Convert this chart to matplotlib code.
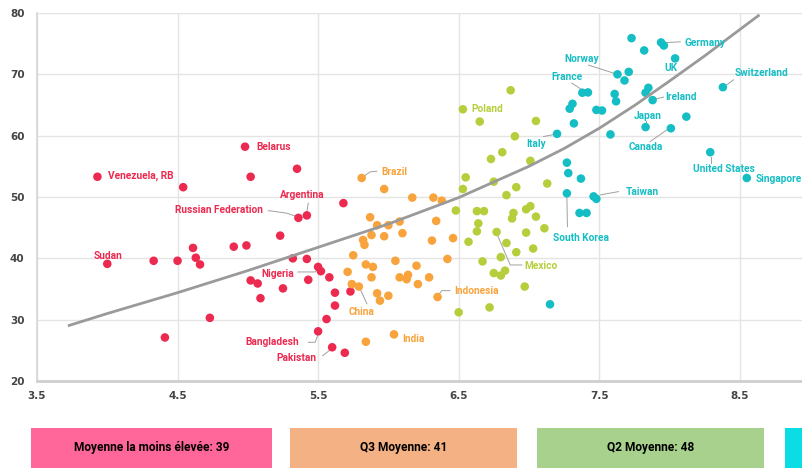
import matplotlib
matplotlib.use("Agg")
import matplotlib.pyplot as plt
from matplotlib.patches import Rectangle

# --- data ---
red_x = [3.93, 4.54, 4.98, 5.02, 5.35, 5.68, 5.36, 5.42, 5.23, 4.61, 4.90, 4.99,
         4.63, 4.66, 4.33, 4.50, 4.00, 5.32, 5.42, 5.50, 5.52, 5.43, 5.58, 5.02,
         5.07, 5.25, 5.62, 5.73, 5.09, 5.62, 4.73, 5.56, 4.41, 5.50, 5.60, 5.69]
red_y = [53.3, 51.6, 58.2, 53.3, 54.6, 49.0, 46.6, 47.0, 43.7, 41.7, 41.9, 42.1,
         40.1, 39.0, 39.6, 39.6, 39.1, 40.0, 39.9, 38.6, 37.9, 36.5, 36.9, 36.4,
         35.9, 35.1, 34.4, 34.6, 33.5, 32.3, 30.3, 30.1, 27.1, 28.1, 25.5, 24.6]

orange_x = [5.81, 5.97, 6.17, 6.32, 6.38, 5.87, 5.92, 6.00, 6.08, 6.34, 5.88, 5.97,
            6.10, 5.82, 5.83, 6.31, 6.46, 5.75, 6.05, 6.42, 6.20, 5.84, 5.89, 5.71,
            5.88, 6.08, 6.14, 6.13, 6.21, 6.29, 5.74, 5.79, 5.92, 6.00, 5.94, 6.35,
            6.04, 5.84]
orange_y = [53.1, 51.3, 49.9, 49.9, 49.4, 46.7, 45.4, 45.4, 46.0, 46.1, 43.8, 43.6,
            44.1, 43.0, 42.2, 42.9, 43.3, 40.5, 39.6, 39.9, 38.8, 39.0, 38.6, 37.8,
            36.9, 36.9, 37.3, 36.6, 35.8, 36.9, 35.8, 35.4, 34.3, 33.9, 33.1, 33.7,
            27.6, 26.4]

green_x = [6.87, 6.53, 6.65, 7.05, 6.90, 6.73, 6.81, 7.01, 6.55, 6.53, 6.75, 6.91,
           7.13, 6.84, 6.48, 6.63, 6.68, 6.89, 6.88, 6.98, 7.01, 7.05, 6.64, 6.63,
           6.77, 6.98, 7.11, 6.57, 6.84, 6.91, 7.03, 6.67, 6.80, 6.75, 6.80, 6.83,
           6.97, 6.72, 6.50]
green_y = [67.4, 64.3, 62.3, 62.4, 59.9, 56.2, 57.3, 55.9, 53.2, 51.3, 52.5, 51.6,
           52.2, 50.3, 47.8, 47.7, 47.7, 47.4, 46.5, 48.0, 48.5, 46.8, 45.7, 44.4,
           44.3, 44.2, 44.9, 42.7, 42.5, 41.0, 41.6, 39.5, 40.2, 37.6, 37.2, 38.0,
           35.4, 32.0, 31.2]

teal_x = [7.73, 7.94, 7.96, 7.82, 8.04, 7.63, 7.71, 7.68, 7.38, 7.42, 7.61, 7.62,
          7.85, 7.83, 7.88, 8.38, 7.31, 7.29, 7.48, 7.52, 8.12, 7.83, 8.01, 7.32,
          7.20, 7.58, 8.29, 8.55, 7.27, 7.28, 7.37, 7.27, 7.46, 7.48, 7.36, 7.41,
          7.15]
teal_y = [75.9, 75.2, 74.7, 73.9, 72.6, 70.0, 70.4, 69.0, 67.0, 67.05, 66.8, 65.6,
          67.8, 67.0, 65.8, 67.9, 65.2, 64.4, 64.2, 64.1, 63.1, 61.4, 61.2, 62.0,
          60.3, 60.2, 57.3, 53.1, 55.6, 53.9, 53.0, 50.6, 50.1, 49.7, 47.4, 47.4,
          32.5]

# trend curve, read at several points along the line
trend_x = [3.72, 4.0, 4.5, 5.0, 5.5, 6.0, 6.5, 7.0, 7.25, 7.5, 7.75, 8.0, 8.25, 8.64]
trend_y = [29.0, 31.0, 34.4, 38.0, 41.8, 45.6, 49.9, 55.0, 57.9, 61.2, 64.9, 68.9, 73.0, 79.7]

box_labels = ["Moyenne la moins élevée: 39", "Q3 Moyenne: 41", "Q2 Moyenne: 48", ""]

colors = {"red": "#EC2A50", "orange": "#F8A33C", "green": "#B7CE3C", "teal": "#15BEC4"}
box_colors = ["#FF6699", "#F4B183", "#A9D18E", "#0ADDE4"]

# country labels: text, group, x, y, alignment
labels = [
    ("Venezuela, RB", "red", 4.005, 53.4, "left"),
    ("Belarus", "red", 5.06, 58.2, "left"),
    ("Argentina", "red", 5.39, 50.3, "center"),
    ("Russian Federation", "red", 5.11, 47.9, "right"),
    ("Sudan", "red", 4.005, 40.3, "center"),
    ("Nigeria", "red", 5.33, 37.45, "right"),
    ("Bangladesh", "red", 5.367, 26.3, "right"),
    ("Pakistan", "red", 5.486, 23.8, "right"),
    ("Brazil", "orange", 5.953, 54.05, "left"),
    ("China", "orange", 5.716, 31.3, "left"),
    ("Indonesia", "orange", 6.47, 34.73, "left"),
    ("India", "orange", 6.098, 26.85, "left"),
    ("Poland", "green", 6.594, 64.32, "left"),
    ("Mexico", "green", 6.968, 38.81, "left"),
    ("Germany", "teal", 8.107, 75.14, "left"),
    ("Norway", "teal", 7.378, 72.48, "center"),
    ("UK", "teal", 8.012, 71.0, "center"),
    ("France", "teal", 7.274, 69.64, "center"),
    ("Switzerland", "teal", 8.463, 70.29, "left"),
    ("Ireland", "teal", 7.97, 66.28, "left"),
    ("Japan", "teal", 7.842, 63.28, "center"),
    ("Canada", "teal", 7.83, 58.12, "center"),
    ("Italy", "teal", 7.049, 58.66, "center"),
    ("United States", "teal", 8.386, 54.53, "center"),
    ("Singapore", "teal", 8.612, 52.95, "left"),
    ("Taiwan", "teal", 7.687, 50.78, "left"),
    ("South Korea", "teal", 7.37, 43.38, "center"),
]

# leader lines from dot to label
leaders = [
    ([5.42, 5.43], [47.6, 49.0]),
    ([5.146, 5.277, 5.348], [47.78, 47.36, 46.8]),
    ([5.356, 5.479, 5.502], [37.78, 37.78, 38.38]),
    ([5.431, 5.479, 5.498], [26.31, 26.31, 27.5]),
    ([5.533, 5.585], [24.13, 25.06]),
    ([5.822, 5.870, 5.918], [53.33, 54.09, 54.21]),
    ([5.799, 5.847], [35.0, 32.6]),
    ([6.356, 6.380, 6.439], [34.03, 34.73, 34.73]),
    ([6.772, 6.867, 6.950], [44.0, 38.92, 38.92]),
    ([7.982, 8.077], [75.19, 75.30]),
    ([7.424, 7.602], [71.50, 70.20]),
    ([7.306, 7.400], [68.56, 67.14]),
    ([8.456, 8.397], [69.1, 68.12]),
    ([7.894, 7.958], [65.95, 66.28]),
    ([7.835, 7.835], [62.46, 61.8]),
    ([7.863, 7.982], [59.04, 60.95]),
    ([7.104, 7.199], [59.85, 60.29]),
    ([8.297, 8.297], [56.59, 55.5]),
    ([7.507, 7.637], [50.34, 50.88]),
    ([7.270, 7.274], [50.07, 45.17]),
]

fig = plt.figure(figsize=(8.03, 4.69), dpi=100)
ax = fig.add_axes([37 / 803, 88 / 469, 766 / 803, 368 / 469])

ax.set_xlim(3.5, 8.95)
ax.set_ylim(20, 80)
ax.set_xticks([3.5, 4.5, 5.5, 6.5, 7.5, 8.5])
ax.set_yticks([20, 30, 40, 50, 60, 70, 80])
ax.grid(True, color="#E4E4E4", lw=1.0)
ax.set_axisbelow(True)
for s in ["top", "right"]:
    ax.spines[s].set_visible(False)
ax.spines["left"].set_color("#D6D6D6")
ax.spines["left"].set_linewidth(1.2)
ax.spines["bottom"].set_color("#CFCFCF")
ax.spines["bottom"].set_linewidth(2.0)
ax.tick_params(length=0, labelsize=7.5, labelcolor="#444444")
ax.tick_params(axis="x", pad=7)
ax.tick_params(axis="y", pad=9)
for t in ax.get_xticklabels() + ax.get_yticklabels():
    t.set_fontweight("bold")

for xs, ys, c in [(red_x, red_y, "red"), (orange_x, orange_y, "orange"),
                  (green_x, green_y, "green"), (teal_x, teal_y, "teal")]:
    ax.scatter(xs, ys, s=38, color=colors[c], edgecolors="none", zorder=3)

ax.plot(trend_x, trend_y, color="#9A9A9A", lw=2.0, zorder=4,
        solid_capstyle="butt", solid_joinstyle="round")

for xs, ys in leaders:
    ax.plot(xs, ys, color="#A0A0A0", lw=0.7, zorder=2)

for text, c, x, y, ha in labels:
    ax.text(x, y, text, color=colors[c], fontsize=7.3, fontweight="bold",
            family="Roboto", ha=ha, va="center", clip_on=False, zorder=5)

# colour legend boxes under the chart
box_left = [31, 290, 537, 785]
box_right = [272, 517, 764, 810]
for i, lab in enumerate(box_labels):
    x0 = box_left[i] / 803
    w = (box_right[i] - box_left[i]) / 803
    fig.patches.append(Rectangle((x0, 1 / 469), w, 40 / 469, transform=fig.transFigure,
                                 facecolor=box_colors[i], edgecolor="none"))
    if lab:
        fig.text(x0 + w / 2, 22 / 469, lab, ha="center", va="center", fontsize=8.6,
                 fontweight="bold", family="Roboto", color="black")

fig.savefig("out.png", dpi=100)
